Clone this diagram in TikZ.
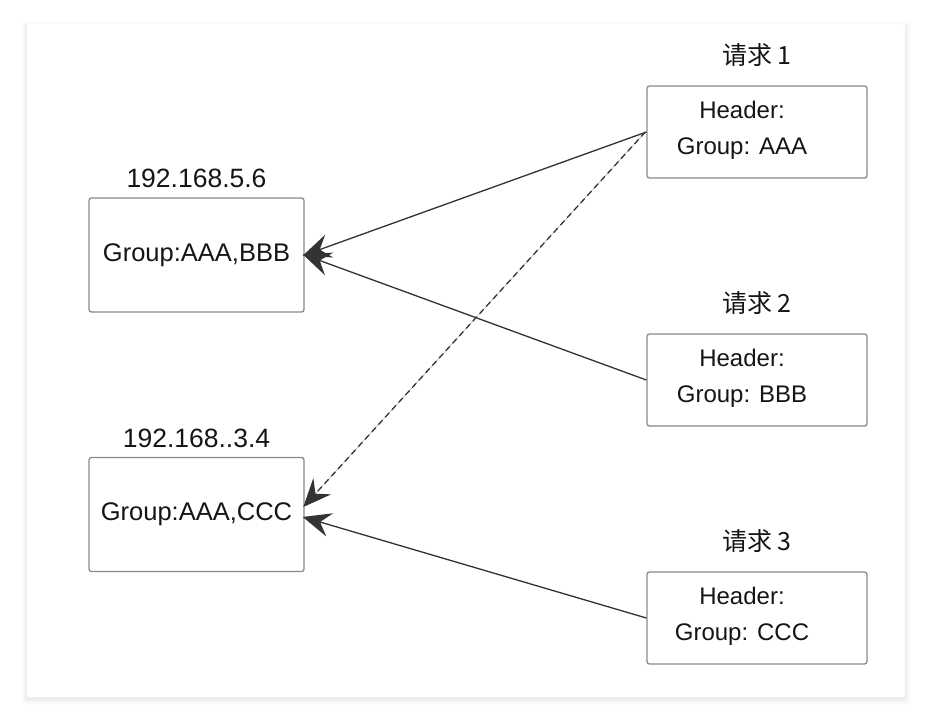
\documentclass[tikz,border=0pt]{standalone}
\usepackage{fontspec}
\setmainfont{Liberation Sans}
\newfontfamily\cjkfont{Noto Sans CJK SC}
\usepackage{xcolor}
\usetikzlibrary{arrows.meta, positioning, shadows}
\definecolor{boxgray}{HTML}{8A8A8A}
\definecolor{linegray}{HTML}{333333}
\definecolor{inkdark}{HTML}{151515}

\begin{document}
\begin{tikzpicture}[
    x=1pt, y=-1pt,
    hostbox/.style={rectangle, rounded corners=2.5pt, draw=boxgray, line width=1.3pt, fill=white, minimum width=215pt, minimum height=114pt, font=\fontsize{25.5}{30}\selectfont, text=inkdark},
    reqbox/.style={rectangle, rounded corners=2.5pt, draw=boxgray, line width=1.3pt, fill=white, minimum width=220pt, minimum height=92pt},
    reqtext/.style={align=center, font=\fontsize{24}{36}\selectfont, text=inkdark},
    iplabel/.style={font=\fontsize{26.5}{30}\selectfont, text=inkdark, inner sep=0pt},
    reqlabel/.style={font=\cjkfont\fontsize{25}{28}\selectfont, text=inkdark, inner sep=0pt},
    arrow/.style={-{Stealth[length=28pt, width=24pt, inset=10pt]}, line width=1.3pt, draw=linegray, fill=black, shorten >=-2pt}
]

% card with soft shadow
\useasboundingbox (0,0) rectangle (937,726);
\foreach \s/\c in {5/2, 3/4, 1.5/7} {
  \fill[black!\c, rounded corners=3pt] (27-\s,24-\s+3) rectangle (905+\s,697+\s+2);
}
\fill[white, rounded corners=2pt] (27,24) rectangle (905,697);

% servers
\node[hostbox] (b1) at (196.5,255) {Group:AAA,BBB};
\node[hostbox] (b2) at (196.5,514.5) {Group:AAA,CCC};
\node[iplabel, above=9pt of b1] (ip1) {192.168.5.6};
\node[iplabel, above=9pt of b2] (ip2) {192.168..3.4};

% requests
\node[reqbox] (r1) at (757,132) {};
\node[reqbox] (r2) at (757,380) {};
\node[reqbox] (r3) at (757,618) {};
\node[reqtext] (t1) at (742,130) {Header:\\Group: AAA};
\node[reqtext] (t2) at (742,378) {Header:\\Group: BBB};
\node[reqtext] (t3) at (742,616) {Header:\\Group: CCC};
\node[reqlabel, above=19pt of r1] (q1) {请求 1};
\node[reqlabel, above=19pt of r2] (q2) {请求 2};
\node[reqlabel, above=19pt of r3] (q3) {请求 3};

\draw[arrow] (r1.west) -- (b1.east);
\draw[arrow] (r2.west) -- (b1.east);
\draw[arrow, dash pattern=on 6pt off 4pt] ([xshift=-1pt]r1.west) -- ([yshift=9pt]b2.east);
\draw[arrow] (r3.west) -- ([yshift=-3pt]b2.east);

\end{tikzpicture}
\end{document}
